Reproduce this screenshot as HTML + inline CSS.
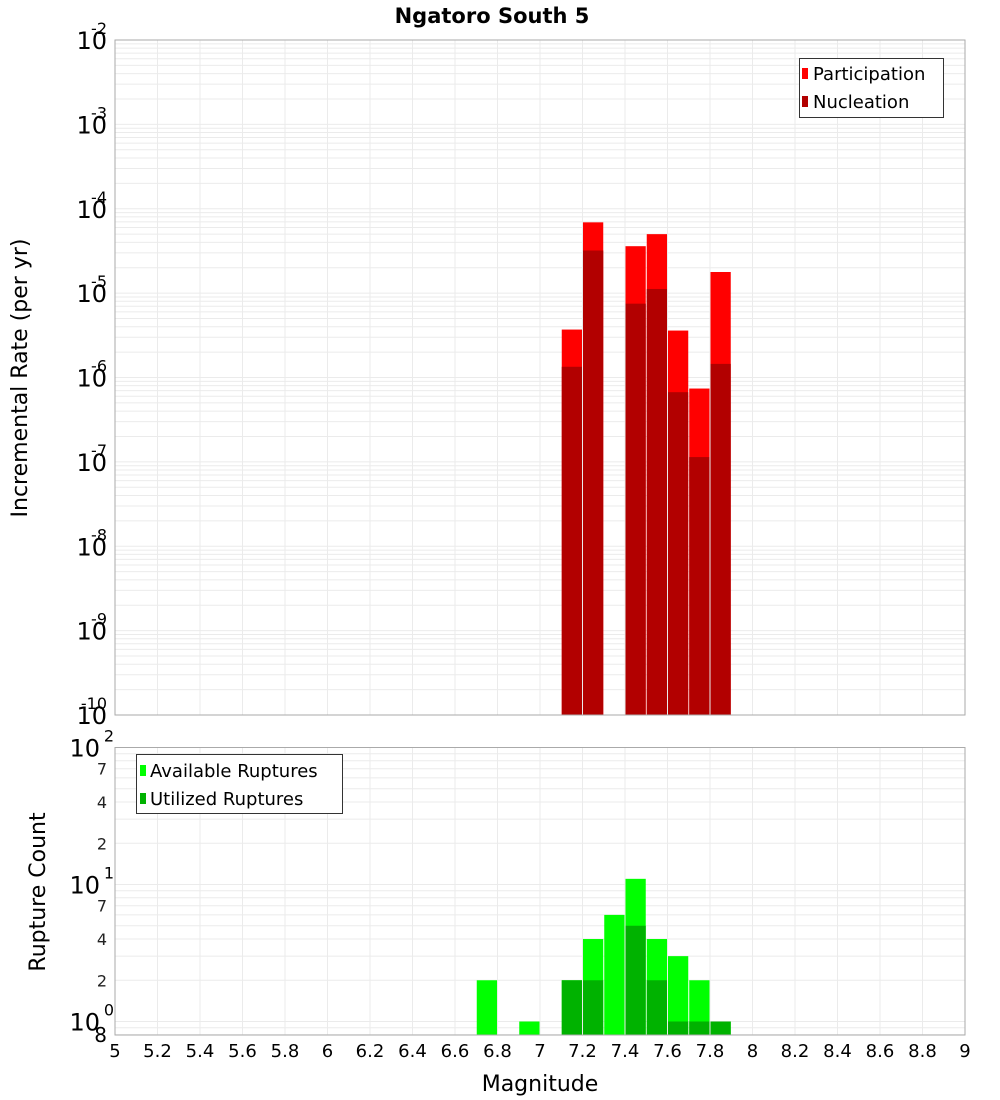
<!DOCTYPE html>
<html><head><meta charset="utf-8"><style>
html,body{margin:0;padding:0;background:#fff;}
svg{display:block;font-family:"DejaVu Sans","Liberation Sans",sans-serif;}
</style></head><body>
<svg id="c" width="1000" height="1100" xmlns="http://www.w3.org/2000/svg"></svg>
<script>
const bins = [6.7, 6.9, 7.1, 7.2, 7.3, 7.4, 7.5, 7.6, 7.7, 7.8];
const participation = [0, 0, 3.7e-6, 6.9e-5, 0, 3.6e-5, 5.0e-5, 3.6e-6, 7.4e-7, 1.78e-5];
const nucleation = [0, 0, 1.34e-6, 3.2e-5, 0, 7.5e-6, 1.12e-5, 6.7e-7, 1.14e-7, 1.45e-6];
const available = [2, 1, 2, 4, 6, 11, 4, 3, 2, 1];
const utilized = [0, 0, 2, 2, 0, 5, 2, 1, 1, 1];
const xTicks = [5,5.2,5.4,5.6,5.8,6,6.2,6.4,6.6,6.8,7,7.2,7.4,7.6,7.8,8,8.2,8.4,8.6,8.8,9];
const topExps = [-2,-3,-4,-5,-6,-7,-8,-9,-10];
const botExps = [2,1,0];
const botMinorLabels = [2,4,7];

const NS="http://www.w3.org/2000/svg";
const svg=document.getElementById('c');
function el(tag,attrs,parent){const e=document.createElementNS(NS,tag);for(const k in attrs)e.setAttribute(k,attrs[k]);(parent||svg).appendChild(e);return e;}
const X0=115,X1=965;
const x=v=>X0+(v-5)/4*(X1-X0);
const T0=40,T1=715;
const yT=v=>T0+(-2-Math.log10(v))/8*(T1-T0);
const B0=747.5,B1=1035,BPD=137;
const yB=v=>B0+(2-Math.log10(v))*BPD;

// plot backgrounds
el('rect',{x:X0,y:T0,width:X1-X0,height:T1-T0,fill:'#fff'});
el('rect',{x:X0,y:B0,width:X1-X0,height:B1-B0,fill:'#fff'});
const grid=el('g',{stroke:'#ebebeb','stroke-width':1});


xTicks.forEach(t=>{el('line',{x1:x(t),x2:x(t),y1:T0,y2:T1},grid);el('line',{x1:x(t),x2:x(t),y1:B0,y2:B1},grid);});
for(let e=-10;e<-2;e++)for(let m=1;m<10;m++){const yy=yT(m*Math.pow(10,e));el('line',{x1:X0,x2:X1,y1:yy,y2:yy},grid);}
for(let e=-1;e<2;e++)for(let m=1;m<10;m++){const yy=yB(m*Math.pow(10,e));if(yy<=B1&&yy>=B0)el('line',{x1:X0,x2:X1,y1:yy,y2:yy},grid);}

// top bars
bins.forEach((b,i)=>{
  const xl=x(b)+0.5,w=x(b+0.1)-x(b)-1;
  if(participation[i]>0){const r=el('rect',{x:xl,y:yT(participation[i]),width:w,height:T1-yT(participation[i]),fill:'#ff0000'});
    }
  if(nucleation[i]>0){const r=el('rect',{x:xl,y:yT(nucleation[i]),width:w,height:T1-yT(nucleation[i]),fill:'#b20000'});
    }
  if(available[i]>0){const r=el('rect',{x:xl,y:yB(available[i]),width:w,height:B1-yB(available[i]),fill:'#00ff00'});
    }
  if(utilized[i]>0){const r=el('rect',{x:xl,y:yB(utilized[i]),width:w,height:B1-yB(utilized[i]),fill:'#00b200'});
    }
});
el('rect',{x:X0,y:T0,width:X1-X0,height:T1-T0,fill:'none',stroke:'#aaa'});
el('rect',{x:X0,y:B0,width:X1-X0,height:B1-B0,fill:'none',stroke:'#aaa'});

// top y labels
topExps.forEach(e=>{
  const yy=yT(Math.pow(10,e));
  const t=el('text',{x:X0-8,y:yy+9,'text-anchor':'end','font-size':24,fill:'#000'});
  
  t.textContent='10';
  const s=el('text',{x:X0-8,y:yy-6,'text-anchor':'end','font-size':16,fill:'#000'});
  s.textContent=String(e);
});
botExps.forEach(e=>{
  const yy=yB(Math.pow(10,e));
  const t=el('text',{x:X0-15,y:yy+9,'text-anchor':'end','font-size':24,fill:'#000'});
  
  t.textContent='10';
  const s=el('text',{x:X0-1,y:yy-6,'text-anchor':'end','font-size':16,fill:'#000'});
  s.textContent=String(e);
});
[1,0].forEach(e=>botMinorLabels.forEach(m=>{
  const yy=yB(m*Math.pow(10,e));
  const t=el('text',{x:X0-8,y:yy+6,'text-anchor':'end','font-size':16,fill:'#222'});
  
  t.textContent=String(m);
}));
{const t=el('text',{x:X0-8,y:1042,'text-anchor':'end','font-size':20,fill:'#000'});t.textContent='8';}
// x ticks
xTicks.forEach(tk=>{
  const t=el('text',{x:x(tk),y:1057,'text-anchor':'middle','font-size':18,fill:'#000'});
  
  t.textContent=String(tk);
});
</script>
<svg style="position:absolute;left:0;top:0" width="1000" height="1100" xmlns="http://www.w3.org/2000/svg" font-family="DejaVu Sans, Liberation Sans, sans-serif">
<text x="492" y="23" text-anchor="middle" font-size="21" font-weight="bold">Ngatoro South 5</text>
<text x="540" y="1091" text-anchor="middle" font-size="22">Magnitude</text>
<text transform="translate(27,378) rotate(-90)" text-anchor="middle" font-size="22">Incremental Rate (per yr)</text>
<text transform="translate(45,892) rotate(-90)" text-anchor="middle" font-size="22">Rupture Count</text>
<g>
<rect x="799.5" y="58.5" width="144" height="59" fill="#fff" stroke="#333"/>
<rect x="802" y="68" width="6" height="11" fill="#ff0000"/>
<text x="813" y="80" font-size="18">Participation</text>
<rect x="802" y="96" width="6" height="11" fill="#b20000"/>
<text x="813" y="108" font-size="18">Nucleation</text>
</g>
<g>
<rect x="136.5" y="754.5" width="206" height="59" fill="#fff" stroke="#333"/>
<rect x="140" y="765" width="6" height="11" fill="#00ff00"/>
<text x="150" y="777" font-size="18">Available Ruptures</text>
<rect x="140" y="793" width="6" height="11" fill="#00b200"/>
<text x="150" y="805" font-size="18">Utilized Ruptures</text>
</g>
</svg>
</body></html>
